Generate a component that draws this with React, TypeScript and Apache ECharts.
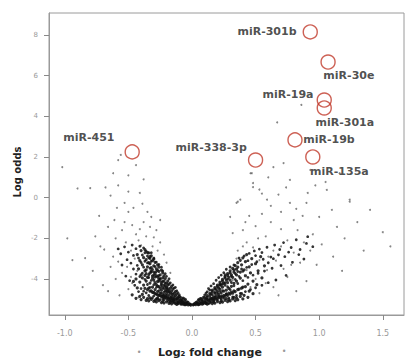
import React, { useEffect, useRef } from "react";
import * as echarts from "echarts";

const xTicks = [-1.0, -0.5, 0.0, 0.5, 1.0, 1.5];
const yTicks = [-4, -2, 0, 2, 4, 6, 8];

// highlighted miRNAs: [log2 fold change, log odds]
const hlNames = ["miR-301b", "miR-30e", "miR-19a", "miR-301a", "miR-19b", "miR-135a", "miR-338-3p", "miR-451"];
const hlX = [0.93, 1.07, 1.04, 1.04, 0.81, 0.95, 0.5, -0.47];
const hlY = [8.15, 6.67, 4.8, 4.41, 2.84, 2.0, 1.85, 2.25];

const leftCore = [
  [-0.01,-5.28],[-0.02,-5.25],[-0.03,-5.27],[-0.04,-5.22],[-0.05,-5.18],[-0.05,-5.24],[-0.06,-5.2],[-0.07,-5.15],[-0.07,-5.22],[-0.08,-5.1],
  [-0.08,-5.19],[-0.09,-5.05],[-0.09,-5.16],[-0.1,-5.12],[-0.1,-4.98],[-0.11,-5.08],[-0.11,-4.9],[-0.12,-5.14],[-0.12,-4.95],[-0.13,-5.02],
  [-0.13,-4.82],[-0.14,-5.1],[-0.14,-4.88],[-0.14,-4.7],[-0.15,-4.98],[-0.15,-4.76],[-0.16,-5.06],[-0.16,-4.85],[-0.16,-4.6],[-0.17,-4.92],
  [-0.17,-4.68],[-0.17,-4.45],[-0.18,-5.0],[-0.18,-4.78],[-0.18,-4.55],[-0.19,-4.88],[-0.19,-4.62],[-0.19,-4.3],[-0.2,-4.96],[-0.2,-4.72],
  [-0.2,-4.48],[-0.2,-4.2],[-0.21,-4.84],[-0.21,-4.58],[-0.21,-4.35],[-0.22,-4.92],[-0.22,-4.66],[-0.22,-4.1],[-0.23,-4.78],[-0.23,-4.42],
  [-0.23,-3.95],[-0.24,-4.86],[-0.24,-4.55],[-0.24,-4.25],[-0.25,-4.7],[-0.25,-4.02],[-0.25,-3.8],[-0.26,-4.8],[-0.26,-4.38],[-0.26,-3.62],
  [-0.27,-4.62],[-0.27,-4.12],[-0.27,-3.9],[-0.28,-4.74],[-0.28,-4.28],[-0.28,-3.5],[-0.29,-4.52],[-0.29,-3.72],[-0.3,-4.66],[-0.3,-4.05],
  [-0.3,-3.35],[-0.31,-4.4],[-0.31,-3.85],[-0.31,-3.1],[-0.32,-4.58],[-0.32,-3.6],[-0.33,-4.2],[-0.33,-3.25],[-0.33,-2.9],[-0.34,-4.45],
  [-0.34,-3.78],[-0.35,-3.4],[-0.35,-2.7],[-0.36,-4.1],[-0.36,-3.05],[-0.37,-3.6],[-0.37,-2.55],[-0.38,-4.3],[-0.38,-2.95],[-0.39,-3.3],
  [-0.4,-3.8],[-0.4,-2.6],[-0.41,-3.1],[-0.42,-3.5],[-0.43,-2.8],[-0.44,-4.0],
  [-0.04,-5.12],[-0.06,-5.08],[-0.08,-4.98],[-0.1,-4.86],[-0.12,-4.75],[-0.13,-4.62],[-0.15,-4.5],[-0.16,-4.36],[-0.18,-4.25],[-0.19,-4.1],
  [-0.21,-3.98],[-0.22,-3.85],[-0.23,-3.7],[-0.24,-3.56],[-0.26,-3.42],[-0.27,-3.3],[-0.29,-3.18],[-0.3,-3.02],[-0.32,-2.86],[-0.34,-2.72],
  [-0.15,-5.04],[-0.17,-4.98],[-0.19,-4.94],[-0.21,-4.9],[-0.23,-4.86],[-0.25,-4.82],[-0.27,-4.78],[-0.29,-4.72],[-0.31,-4.66],[-0.33,-4.6],
  [-0.35,-4.52],[-0.37,-4.46],[-0.2,-4.4],[-0.22,-4.3],[-0.24,-4.15],[-0.26,-4.0],[-0.28,-3.84],[-0.3,-3.66],[-0.32,-3.44],[-0.34,-3.2],
  [-0.36,-3.55],[-0.25,-4.45],[-0.27,-4.35],[-0.29,-4.18],[-0.31,-3.96],[-0.33,-3.7],[-0.35,-3.92],[-0.37,-3.82],[-0.39,-3.95],[-0.41,-4.15],
];

const leftBand = [
  [-0.03,-5.14],[-0.05,-5.01],[-0.06,-5.27],[-0.07,-4.93],[-0.09,-5.23],[-0.1,-4.77],[-0.11,-5.19],[-0.12,-4.58],[-0.13,-5.21],[-0.13,-4.41],
  [-0.14,-4.97],[-0.15,-4.29],[-0.15,-5.13],[-0.16,-4.72],[-0.17,-4.19],[-0.17,-5.09],[-0.18,-4.63],[-0.18,-3.99],[-0.19,-4.47],[-0.19,-5.07],
  [-0.2,-3.87],[-0.2,-4.81],[-0.21,-4.21],[-0.21,-3.74],[-0.22,-5.02],[-0.22,-4.47],[-0.23,-3.61],[-0.23,-4.97],[-0.23,-4.12],[-0.24,-3.42],
  [-0.24,-4.69],[-0.25,-3.97],[-0.25,-5.01],[-0.26,-3.29],[-0.26,-4.57],[-0.26,-3.83],[-0.27,-4.92],[-0.27,-3.57],[-0.28,-3.17],[-0.28,-4.41],
  [-0.28,-4.97],[-0.29,-3.91],[-0.29,-3.39],[-0.3,-4.83],[-0.3,-2.97],[-0.3,-4.28],[-0.31,-3.53],[-0.31,-4.92],[-0.32,-3.13],[-0.32,-4.07],
  [-0.32,-2.71],[-0.33,-4.41],[-0.33,-3.47],[-0.34,-2.96],[-0.34,-4.81],[-0.34,-3.93],[-0.35,-3.21],[-0.35,-4.27],[-0.36,-2.63],[-0.36,-3.73],
  [-0.36,-4.68],[-0.37,-3.13],[-0.37,-4.02],[-0.38,-3.42],[-0.38,-2.47],[-0.38,-4.6],[-0.39,-2.82],[-0.39,-3.71],[-0.4,-4.47],[-0.4,-3.19],
  [-0.41,-2.39],[-0.41,-3.88],[-0.42,-2.97],[-0.42,-4.62],[-0.43,-3.33],[-0.44,-2.51],[-0.44,-3.76],[-0.45,-4.31],[-0.46,-2.84],[-0.46,-3.51],
  [-0.47,-2.33],[-0.48,-3.22],[-0.49,-4.08],[-0.5,-2.68],[-0.51,-3.05],[-0.52,-3.86],[-0.53,-2.42],[-0.55,-3.31],[-0.56,-2.76],[-0.58,-2.52],
  [-0.2,-4.59],[-0.22,-4.79],[-0.24,-4.32],[-0.26,-4.11],[-0.28,-3.63],[-0.3,-3.81],[-0.32,-3.66],[-0.33,-2.99],[-0.35,-2.87],[-0.37,-2.71],
  [-0.16,-4.93],[-0.14,-4.44],[-0.12,-4.99],[-0.11,-4.67],[-0.09,-4.89],[-0.08,-5.05],[-0.06,-4.97],[-0.04,-5.19],[-0.02,-5.21],[-0.01,-5.24],
];

const leftBottom = [
  [-0.05,-5.26],[-0.08,-5.24],[-0.11,-5.21],[-0.14,-5.17],[-0.17,-5.15],[-0.2,-5.12],[-0.23,-5.1],[-0.26,-5.06],[-0.29,-5.04],[-0.32,-5.0],
  [-0.35,-4.97],[-0.38,-4.9],[-0.41,-4.85],[-0.12,-5.25],[-0.18,-5.2],[-0.24,-5.16],[-0.3,-5.1],[-0.36,-5.05],[-0.44,-4.95],[-0.47,-4.78],
  [-0.16,-5.22],[-0.22,-5.18],[-0.28,-5.13],[-0.34,-5.08],[-0.4,-5.01],[-0.27,-4.99],[-0.33,-4.93],[-0.39,-4.76],[-0.43,-4.44],[-0.46,-4.12],
];

const rightCore = [
  [0.01,-5.27],[0.02,-5.24],[0.03,-5.26],[0.04,-5.2],[0.05,-5.23],[0.06,-5.16],[0.07,-5.2],[0.08,-5.12],[0.09,-5.17],[0.1,-5.06],
  [0.1,-5.14],[0.11,-4.98],[0.12,-5.1],[0.12,-4.9],[0.13,-5.04],[0.14,-4.84],[0.14,-5.08],[0.15,-4.95],[0.15,-4.72],[0.16,-5.02],
  [0.16,-4.62],[0.17,-4.88],[0.18,-5.0],[0.18,-4.7],[0.18,-4.5],[0.19,-4.82],[0.2,-4.96],[0.2,-4.6],[0.2,-4.38],[0.21,-4.75],
  [0.22,-4.92],[0.22,-4.5],[0.22,-4.25],[0.23,-4.68],[0.24,-4.88],[0.24,-4.4],[0.24,-4.1],[0.25,-4.6],[0.26,-4.84],[0.26,-4.3],
  [0.26,-3.95],[0.27,-4.55],[0.28,-4.8],[0.28,-4.18],[0.28,-3.82],[0.29,-4.46],[0.3,-4.74],[0.3,-4.05],[0.3,-3.7],[0.31,-4.36],
  [0.32,-4.7],[0.32,-3.92],[0.33,-4.22],[0.33,-3.55],[0.34,-4.62],[0.35,-3.8],[0.35,-4.1],[0.36,-3.42],[0.37,-4.5],[0.38,-3.66],
  [0.38,-3.96],[0.39,-3.3],[0.4,-4.4],[0.41,-3.55],[0.42,-3.84],[0.42,-3.15],[0.44,-4.25],[0.45,-3.4],[0.46,-3.7],[0.47,-3.0],
  [0.48,-4.1],[0.5,-3.25],[0.52,-3.6],[0.54,-2.9],[0.55,-3.95],[0.57,-3.35],
  [0.04,-5.12],[0.06,-5.06],[0.08,-5.0],[0.1,-4.92],[0.12,-4.82],[0.14,-4.72],[0.16,-4.55],[0.18,-4.42],[0.2,-4.3],[0.22,-4.16],
  [0.24,-4.02],[0.26,-3.88],[0.28,-3.74],[0.3,-3.6],[0.32,-3.48],[0.34,-3.34],[0.36,-3.2],[0.38,-3.08],[0.4,-2.96],[0.43,-2.8],
  [0.17,-4.98],[0.19,-4.94],[0.21,-4.88],[0.23,-4.84],[0.25,-4.8],[0.27,-4.76],[0.29,-4.7],[0.31,-4.64],[0.33,-4.58],[0.36,-4.52],
  [0.39,-4.45],[0.42,-4.38],[0.21,-4.45],[0.23,-4.3],[0.25,-4.2],[0.27,-4.05],[0.29,-3.92],[0.31,-3.8],[0.33,-3.66],[0.35,-3.52],
];

const rightBand = [
  [0.03,-5.15],[0.05,-5.02],[0.06,-5.25],[0.07,-4.95],[0.09,-5.22],[0.1,-4.79],[0.11,-5.18],[0.12,-4.63],[0.13,-5.21],[0.13,-4.47],
  [0.14,-4.98],[0.15,-4.34],[0.15,-5.12],[0.16,-4.77],[0.17,-4.23],[0.17,-5.08],[0.18,-4.66],[0.19,-4.06],[0.19,-4.51],[0.2,-5.04],
  [0.21,-3.93],[0.21,-4.83],[0.22,-4.31],[0.23,-3.81],[0.23,-4.99],[0.24,-4.57],[0.25,-3.69],[0.25,-4.94],[0.26,-4.18],[0.27,-3.52],
  [0.27,-4.72],[0.28,-4.01],[0.29,-4.93],[0.3,-3.41],[0.3,-4.52],[0.31,-3.87],[0.32,-4.88],[0.33,-3.31],[0.33,-4.33],[0.34,-3.73],
  [0.35,-4.81],[0.36,-3.63],[0.36,-4.22],[0.37,-2.97],[0.38,-4.71],[0.39,-3.51],[0.4,-4.08],[0.41,-2.87],[0.42,-4.62],[0.43,-3.43],
  [0.44,-3.92],[0.45,-2.74],[0.46,-4.52],[0.47,-3.29],[0.48,-3.81],[0.49,-2.62],[0.5,-4.43],[0.51,-3.15],[0.52,-3.72],[0.53,-2.53],
  [0.55,-4.31],[0.56,-3.03],[0.57,-3.61],[0.59,-2.44],[0.6,-4.18],[0.62,-2.92],[0.63,-3.47],[0.65,-2.33],[0.66,-4.05],[0.68,-2.81],
  [0.7,-3.34],[0.72,-2.21],[0.74,-3.82],[0.76,-2.68],[0.79,-3.18],[0.82,-2.07],[0.85,-2.55],[0.88,-3.02],[0.91,-1.92],[0.95,-2.41],
  [0.18,-4.88],[0.2,-4.69],[0.22,-4.61],[0.24,-4.24],[0.26,-3.79],[0.28,-4.38],[0.31,-4.17],[0.34,-4.02],[0.37,-3.87],[0.4,-3.62],
  [0.16,-4.95],[0.14,-4.54],[0.12,-4.99],[0.11,-4.7],[0.09,-4.9],[0.08,-5.06],[0.06,-4.98],[0.04,-5.18],[0.02,-5.2],[0.01,-5.25],
  [0.44,-3.1],[0.5,-2.85],[0.55,-2.7],[0.6,-3.2],[0.64,-3.0],[0.69,-2.55],[0.73,-2.9],[0.78,-2.45],[0.84,-2.8],[0.9,-2.25],
];

const rightBottom = [
  [0.05,-5.26],[0.08,-5.23],[0.11,-5.2],[0.14,-5.17],[0.17,-5.14],[0.2,-5.11],[0.23,-5.08],[0.26,-5.05],[0.29,-5.02],[0.32,-4.98],
  [0.35,-4.93],[0.38,-4.86],[0.41,-4.8],[0.12,-5.24],[0.18,-5.19],[0.24,-5.14],[0.3,-5.08],[0.36,-5.02],[0.44,-4.9],[0.48,-4.72],
  [0.16,-5.21],[0.22,-5.16],[0.28,-5.11],[0.34,-5.06],[0.4,-4.98],[0.27,-4.97],[0.33,-4.9],[0.39,-4.72],[0.45,-4.6],[0.51,-4.28],
];

const leftSparse = [
  [-1.02,1.5],[-0.8,0.47],[-0.68,0.5],[-0.58,0.6],[-0.5,1.1],[-0.41,0.23],[-0.53,-0.26],[-0.61,-1.1],[-0.35,-0.7],[-0.66,-1.44],
  [-0.72,-2.4],[-0.94,-3.07],[-0.84,-2.97],[-0.64,-3.4],[-0.7,-4.3],[-0.57,-4.8],[-0.47,-4.2],[-0.42,-4.9],[-0.51,-3.4],[-0.42,-2.1],
  [-0.33,-1.44],[-0.28,-1.6],[-0.25,-2.2],[-0.31,-2.4],[-0.59,-0.5],[-0.5,-0.7],[-0.56,2.1],[-0.58,1.85],[-0.44,1.6],[-0.9,0.45],
  [-0.73,-0.9],[-0.46,-0.5],[-0.38,-1.2],[-0.44,-1.8],[-0.55,-1.6],[-0.6,-2.0],[-0.48,-2.6],[-0.52,-2.2],[-0.62,-2.9],[-0.45,-3.0],
  [-0.55,-3.7],[-0.6,-4.0],[-0.5,-4.5],[-0.66,-4.6],[-0.78,-3.6],[-0.86,-4.4],[-0.48,-3.9],[-0.43,-3.6],[-0.4,-2.35],[-0.36,-1.9],
  [-0.3,-1.95],[-0.27,-2.6],[-0.32,-0.95],[-0.2,-3.2],[-0.17,-3.7],[-0.22,-2.8],[-0.39,-0.3],[-0.64,0.1],[-0.76,-1.9],[-0.98,-2.0],
  [-0.53,-1.2],[-0.47,-1.35],[-0.41,-1.55],[-0.69,-2.55],[-0.58,-3.15],[-0.5,0.3],[-0.62,1.2],[-0.38,0.9],[-0.25,-1.1],
];

const rightSparse = [
  [0.48,0.72],[0.38,-0.1],[0.59,-0.1],[0.77,-0.26],[0.9,-0.26],[1.0,-0.95],[1.14,-1.44],[1.06,0.38],[1.24,-0.1],[1.4,-0.6],
  [1.56,-2.4],[1.11,-2.9],[0.83,-1.6],[0.75,-2.1],[0.64,-2.6],[0.53,-3.07],[0.43,-3.56],[0.32,-4.05],[0.93,-2.6],[0.85,-3.2],
  [0.75,-3.9],[0.64,-4.4],[0.53,-4.7],[0.59,-3.56],[0.43,-2.2],[0.32,-1.74],[0.3,-0.95],[0.35,-0.26],[0.46,1.2],[0.72,1.7],
  [0.93,1.36],[0.67,3.7],[0.86,4.56],[1.24,-0.2],[1.16,1.2],[1.05,0.77],[0.77,0.87],[0.64,1.5],[0.91,0.23],[0.36,-0.2],
  [0.48,0.52],[0.47,1.2],[0.55,-0.8],[0.62,-1.2],[0.7,-0.7],[0.8,-1.1],[0.95,-1.8],[1.02,-2.3],[0.88,-2.2],[0.7,-1.55],
  [0.58,-1.9],[0.5,-1.4],[0.45,-0.9],[0.4,-1.6],[0.36,-2.6],[0.48,-2.45],[0.66,-3.1],[0.72,-3.5],[0.8,-2.7],[0.98,-3.3],
  [1.2,-2.0],[1.3,-1.2],[1.18,-3.6],[0.9,-4.1],[0.82,-4.6],[0.68,-4.8],[0.6,-2.9],[0.52,-2.0],[0.55,0.2],[0.68,0.15],
  [0.82,-0.55],[1.1,-0.6],[0.97,0.6],[0.62,-0.4],[0.42,-1.2],[0.7,-2.4],[0.78,-3.3],[0.58,-4.2],[0.5,-4.0],[0.46,-4.4],
  [0.4,-2.4],[0.35,-3.0],[1.5,-1.7],[1.35,-2.6],[0.74,0.5],[0.87,-0.9],[0.6,1.0],[0.53,0.4],
];

// label placement for each highlighted miRNA: [offsetX, offsetY, align]
const hlLabelPos: [number, number, string][] = [
  [-6, 7, "right"],
  [3, 21, "left"],
  [-3, 2, "right"],
  [-1, 22, "left"],
  [16, 7, "left"],
  [5, 22, "left"],
  [-1, -5, "right"],
  [-10, -7, "right"],
];

export default function App() {
  const ref = useRef<HTMLDivElement>(null);
  useEffect(() => {
    if (!ref.current) return;
    const chart = echarts.init(ref.current, null, { renderer: "svg" });
    const dotStyle = { color: "#111", opacity: 0.85 };
    const hlData = hlNames.map((n, i) => ({
      name: n,
      value: [hlX[i], hlY[i]],
      label: {
        position: [hlLabelPos[i][0], hlLabelPos[i][1]],
        align: hlLabelPos[i][2],
        verticalAlign: "middle",
      },
    }));
    const tickStyle = { show: true, inside: false, length: 5, lineStyle: { color: "#888", width: 1 } };
    const lineStyle = { show: true, onZero: false, lineStyle: { color: "#9a9a9a", width: 1 } };
    chart.setOption({
      animation: false,
      grid: { left: 49, top: 13, width: 355, height: 302, show: true, borderColor: "#9a9a9a", borderWidth: 1, backgroundColor: "#fff" },
      xAxis: {
        type: "value", min: -1.124, max: 1.667, position: "bottom",
        splitLine: { show: false },
        axisLine: lineStyle,
        axisTick: { ...tickStyle, customValues: xTicks },
        axisLabel: { customValues: xTicks, formatter: (v: number) => v.toFixed(1), color: "#999", fontSize: 8, margin: 14, fontFamily: "DejaVu Sans" },
      },
      yAxis: {
        type: "value", min: -5.77, max: 9.08, position: "left",
        splitLine: { show: false },
        axisLine: lineStyle,
        axisTick: { ...tickStyle, customValues: yTicks },
        axisLabel: { customValues: yTicks, color: "#999", fontSize: 7, margin: 11, fontFamily: "DejaVu Sans" },
      },
      series: [
        { type: "scatter", data: leftSparse, symbolSize: 2, itemStyle: { color: "#222", opacity: 0.55 } },
        { type: "scatter", data: rightSparse, symbolSize: 2, itemStyle: { color: "#222", opacity: 0.55 } },
        { type: "scatter", data: leftCore, symbolSize: 3.2, itemStyle: dotStyle },
        { type: "scatter", data: rightCore, symbolSize: 3.2, itemStyle: dotStyle },
        { type: "scatter", data: leftBand, symbolSize: 2.8, itemStyle: dotStyle },
        { type: "scatter", data: rightBand, symbolSize: 2.8, itemStyle: dotStyle },
        { type: "scatter", data: leftBottom, symbolSize: 3.2, itemStyle: dotStyle },
        { type: "scatter", data: rightBottom, symbolSize: 3.2, itemStyle: dotStyle },
        {
          type: "scatter",
          data: hlData,
          symbol: "circle",
          symbolSize: 14,
          itemStyle: { color: "rgba(255,255,255,0)", borderColor: "#c0392b", borderWidth: 1.4 },
          label: {
            show: true,
            formatter: "{b}",
            fontFamily: "DejaVu Sans",
            fontWeight: "bold",
            fontSize: 11,
            color: "#222",
          },
          z: 5,
        },
      ],
      graphic: [
        { type: "text", x: 17, y: 172, rotation: Math.PI / 2, style: { text: "Log odds", font: "bold 10px 'DejaVu Sans'", fill: "#222", align: "center", verticalAlign: "middle" } },
        { type: "text", x: 210, y: 352, style: { text: "Log\u2082 fold change", font: "bold 11px 'DejaVu Sans'", fill: "#222", align: "center", verticalAlign: "middle" } },
        { type: "text", x: 139, y: 352, style: { text: "\u2022", font: "8px 'DejaVu Sans'", fill: "#999", align: "center", verticalAlign: "middle" } },
        { type: "text", x: 284, y: 351, style: { text: "\u2022", font: "8px 'DejaVu Sans'", fill: "#999", align: "center", verticalAlign: "middle" } },
      ],
    });
    return () => chart.dispose();
  }, []);
  return <div ref={ref} style={{ width: 409, height: 362, position: "absolute", left: 0, top: 0 }} />;
}
